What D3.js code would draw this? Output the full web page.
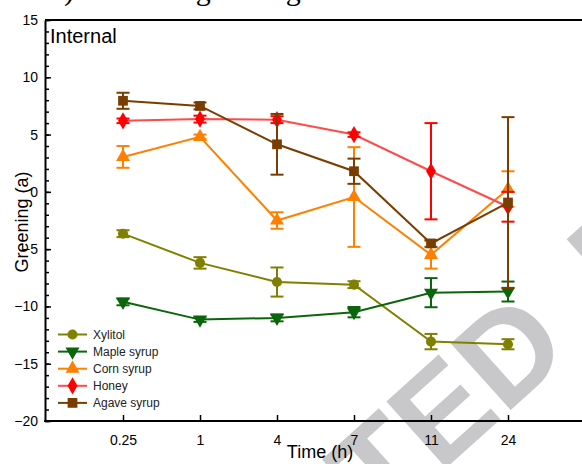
<!DOCTYPE html>
<html>
<head>
<meta charset="utf-8">
<script src="https://cdn.jsdelivr.net/npm/d3@7"></script>
<style>
  body { margin: 0; background: #fff; }
  svg { display: block; font-family: "Liberation Sans", Arial, sans-serif; }
</style>
</head>
<body>
<div class="chart"></div>
<script>
// DATA
var times = ["0.25", "1", "4", "7", "11", "24"];

var xylitol    = [-3.65, -6.2, -7.87, -8.1, -13.07, -13.3];
var xylitolErr = [0.3, 0.5, 1.27, 0.3, 0.67, 0.44];
var maple      = [-9.6, -11.15, -11.0, -10.5, -8.8, -8.7];
var mapleErr   = [0.3, 0.2, 0.3, 0.45, 1.27, 0.87];
var corn       = [3.05, 4.8, -2.5, -0.45, -5.5, 0.25];
var cornErr    = [0.95, 0.2, 0.72, 4.35, 1.2, 1.55];
var honey      = [6.2, 6.35, 6.3, 5.0, 1.8, -1.3];
var honeyErr   = [0.2, 0.3, 0.3, 0.2, 4.2, 1.3];
var agave      = [7.95, 7.5, 4.15, 1.8, -4.5, -0.93];
var agaveErr   = [0.7, 0.3, 2.65, 1.1, 0.3, 7.45];

var seriesNames = ["Xylitol", "Maple syrup", "Corn syrup", "Honey", "Agave syrup"];
var yTicks = [-20, -15, -10, -5, 0, 5, 10, 15];

// series table built from the arrays
var series = [
  {name: seriesNames[0], values: xylitol, errs: xylitolErr, color: "#808000", line: "#808000", shape: d3.symbolCircle, size: 80, rot: 0},
  {name: seriesNames[1], values: maple, errs: mapleErr, color: "#0b650b", line: "#0b650b", shape: d3.symbolTriangle, size: 85, rot: 180},
  {name: seriesNames[2], values: corn, errs: cornErr, color: "#ff8000", line: "#ff8000", shape: d3.symbolTriangle, size: 85, rot: 0},
  {name: seriesNames[3], values: honey, errs: honeyErr, color: "#ff0000", line: "#ff4a4a", shape: d3.symbolDiamond, size: 85, rot: 0},
  {name: seriesNames[4], values: agave, errs: agaveErr, color: "#7a3d00", line: "#7a3d00", shape: d3.symbolSquare, size: 95, rot: 0}
];

// BOARD
var width = 582, height = 464;
var plotLeft = 45, plotTop = 20, plotBottom = 421;

var svg = d3.select('.chart').append('svg')
  .attr('width', width)
  .attr('height', height);

// watermark behind everything
var mark = svg.append('g')
  .attr('transform', 'translate(574,353) rotate(-42)')
  .style('font-size', '130px')
  .style('font-weight', 'bold')
  .style('fill', '#c8c8ca');
mark.append('text').attr('text-anchor', 'end').text('ACCEPTED');
mark.append('text').attr('x', 62).attr('y', 0).text('MANUSCRIPT');

// clipped caption above the frame (only descenders show)
var cap = svg.append('text')
  .attr('y', -0.5)
  .style('font-family', '"Liberation Serif", "Times New Roman", serif')
  .style('font-size', '30px')
  .style('fill', '#000');
cap.append('tspan').attr('x', 49).text('b)');
cap.append('tspan').attr('x', 95).text('Internal greening');

var x = d3.scalePoint()
  .domain(times)
  .range([123, 508]);

var y = d3.scaleLinear()
  .domain([-20, 15])
  .range([plotBottom, plotTop]);

// top frame line
svg.append('line')
  .attr('x1', plotLeft).attr('x2', width).attr('y1', plotTop).attr('y2', plotTop)
  .attr('stroke', '#000').attr('stroke-width', 2);

// minor y ticks
svg.append('g')
  .attr('transform', 'translate(' + plotLeft + ',0)')
  .call(d3.axisLeft(y).tickValues(d3.range(-20, 16, 1)).tickSize(-4).tickFormat(''))
  .call(function (g) { g.select('.domain').remove(); })
  .selectAll('line').attr('stroke-width', 1.5);

// major y axis
var yAxis = svg.append('g')
  .attr('transform', 'translate(' + plotLeft + ',0)')
  .call(d3.axisLeft(y).tickValues(yTicks).tickSizeInner(-6).tickSizeOuter(0).tickPadding(7));
yAxis.select('.domain').attr('stroke-width', 2);
yAxis.selectAll('line').attr('stroke-width', 1.5);
yAxis.selectAll('text').style('font-size', '14px').attr('fill', '#000');

// x axis
var xAxis = svg.append('g')
  .attr('transform', 'translate(0,' + plotBottom + ')')
  .call(d3.axisBottom(x).tickSizeInner(-6).tickSizeOuter(0).tickPadding(14));
xAxis.select('.domain').remove();
xAxis.append('line')
  .attr('x1', plotLeft - 1).attr('x2', width).attr('stroke', '#000').attr('stroke-width', 2);
xAxis.selectAll('.tick line').attr('stroke-width', 1.5);
xAxis.selectAll('text').style('font-size', '14px').attr('fill', '#000');

// axis titles
svg.append('text')
  .attr('x', 320).attr('y', 458)
  .attr('text-anchor', 'middle')
  .style('font-size', '18px')
  .text('Time (h)');

svg.append('text')
  .attr('transform', 'translate(28,222) rotate(-90)')
  .attr('text-anchor', 'middle')
  .style('font-size', '18px')
  .text('Greening (a)');

svg.append('text')
  .attr('x', 50).attr('y', 43)
  .style('font-size', '20px')
  .text('Internal');

// LINES, ERROR BARS, MARKERS
var lineGen = d3.line()
  .x(function (d, i) { return x(times[i]); })
  .y(function (d) { return y(d); });

series.forEach(function (s) {
  var g = svg.append('g');

  g.append('path')
    .datum(s.values)
    .attr('d', lineGen)
    .attr('fill', 'none')
    .attr('stroke', s.line)
    .attr('stroke-width', 2);

  var bars = g.selectAll('.err')
    .data(s.values)
    .enter()
    .append('g');

  bars.append('line')
    .attr('x1', function (d, i) { return x(times[i]); })
    .attr('x2', function (d, i) { return x(times[i]); })
    .attr('y1', function (d, i) { return y(d + s.errs[i]); })
    .attr('y2', function (d, i) { return y(d - s.errs[i]); })
    .attr('stroke', s.color).attr('stroke-width', 2);

  [1, -1].forEach(function (sign) {
    bars.append('line')
      .attr('x1', function (d, i) { return x(times[i]) - 6.5; })
      .attr('x2', function (d, i) { return x(times[i]) + 6.5; })
      .attr('y1', function (d, i) { return y(d + sign * s.errs[i]); })
      .attr('y2', function (d, i) { return y(d + sign * s.errs[i]); })
      .attr('stroke', s.color).attr('stroke-width', 2);
  });

  g.selectAll('.mark')
    .data(s.values)
    .enter()
    .append('path')
    .attr('d', d3.symbol().type(s.shape).size(s.size))
    .attr('transform', function (d, i) {
      return 'translate(' + x(times[i]) + ',' + y(d) + ') rotate(' + s.rot + ')';
    })
    .attr('fill', s.color);
});

// LEGEND
var legend = svg.append('g');
var legendRows = legend.selectAll('g')
  .data(series)
  .enter()
  .append('g')
  .attr('transform', function (d, i) { return 'translate(0,' + (334.5 + i * 17.1) + ')'; });

legendRows.append('line')
  .attr('x1', 58).attr('x2', 87)
  .attr('stroke', function (d) { return d.line; })
  .attr('stroke-width', 2);

legendRows.append('path')
  .attr('d', function (d) { return d3.symbol().type(d.shape).size(d.size)(); })
  .attr('transform', function (d) { return 'translate(72.5,0) rotate(' + d.rot + ')'; })
  .attr('fill', function (d) { return d.color; });

legendRows.append('text')
  .attr('x', 93).attr('dy', '0.35em')
  .style('font-size', '12px')
  .attr('fill', '#222')
  .text(function (d) { return d.name; });
</script>
</body>
</html>
